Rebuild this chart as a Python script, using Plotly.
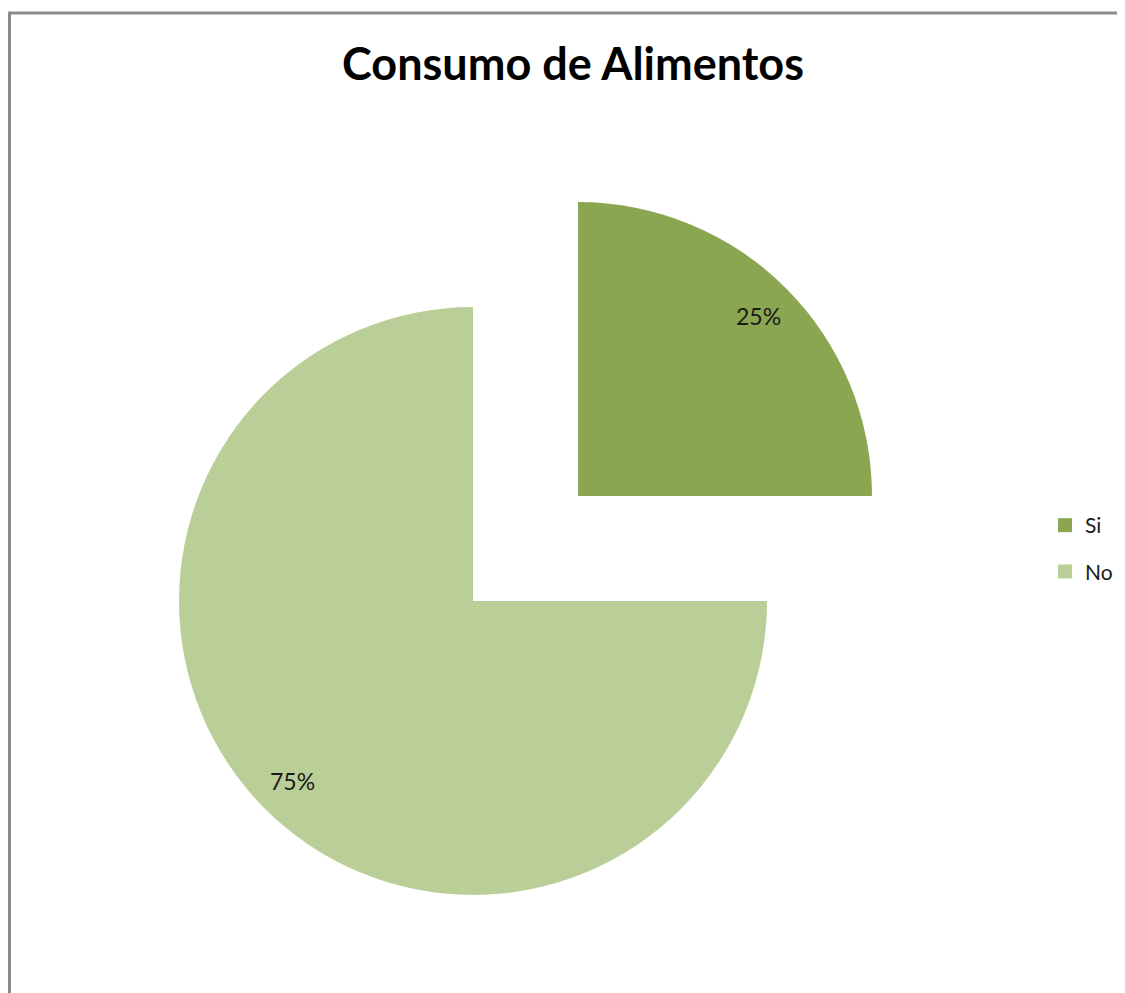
import math
import plotly.graph_objects as go

# datos
categorias = ["Si", "No"]
valores = [25, 75]
colores = ["#8aa650", "#bacf98"]
titulo = "Consumo de Alimentos"

# la pagina deja 8 px de margen alrededor del grafico
OFF = 8
W, H = 1125 - OFF, 993 - OFF
transparente = "rgba(0,0,0,0)"

# geometria del pastel (pixeles de la imagen de referencia)
cx, cy, r = 473 - OFF, 601 - OFF, 294
pull = 0.505
pos_texto = 0.867


def dominio(x0, y0, rad):
    return dict(x=[(x0 - rad) / W, (x0 + rad) / W],
                y=[1 - (y0 + rad) / H, 1 - (y0 - rad) / H])


fig = go.Figure()
anotaciones = []

total = sum(valores)
inicio = 0.0
for i, (cat, val, col) in enumerate(zip(categorias, valores, colores)):
    # angulo medio de la porcion (sentido horario desde las 12)
    medio = 2 * math.pi * (inicio + val / 2) / total
    inicio += val
    dx, dy = math.sin(medio), -math.cos(medio)
    desp = pull * r if i == 0 else 0
    px, py = cx + desp * dx, cy + desp * dy
    cols = [col if j == i else transparente for j in range(len(valores))]
    fig.add_trace(go.Pie(
        labels=categorias,
        values=valores,
        sort=False,
        direction="clockwise",
        rotation=0,
        marker=dict(colors=cols, line=dict(width=0)),
        textinfo="none",
        domain=dominio(px, py, r),
        showlegend=False,
        hoverinfo="skip",
    ))
    tx, ty = px + pos_texto * r * dx, py + pos_texto * r * dy
    anotaciones.append(dict(
        text=f"{val / total:.0%}", x=tx / W, y=1 - ty / H, xref="paper", yref="paper",
        xanchor="center", yanchor="middle", showarrow=False,
        font=dict(family="Lato", size=23, color="#1a1a1a"),
    ))

# leyenda
for cat, col in zip(categorias, colores):
    fig.add_trace(go.Scatter(
        x=[None], y=[None], mode="markers", name=cat, legendgroup=cat,
        marker=dict(symbol="square", size=14, color=col),
    ))

fig.update_layout(
    width=W, height=H,
    margin=dict(l=0, r=0, t=0, b=0),
    paper_bgcolor="white",
    plot_bgcolor="white",
    xaxis=dict(visible=False),
    yaxis=dict(visible=False),
    title=dict(text=titulo, x=(573 - OFF) / W, xanchor="center", y=1 - (64 - OFF) / H, yanchor="middle",
               font=dict(family="Lato", size=45, color="black", weight="bold")),
    legend=dict(x=(1058 - OFF - 13) / W, xanchor="left", y=1 - (526 - OFF - 21) / H, yanchor="top",
                font=dict(family="Lato", size=21, color="#1a1a1a"),
                tracegroupgap=16, itemwidth=30, bgcolor="rgba(0,0,0,0)"),
    annotations=anotaciones,
    shapes=[
        dict(type="line", xref="paper", yref="paper", x0=0, x1=1,
             y0=1 - (13 - OFF) / H, y1=1 - (13 - OFF) / H,
             line=dict(color="#8c8c8c", width=3)),
        dict(type="line", xref="paper", yref="paper", x0=1.5 / W, x1=1.5 / W,
             y0=0, y1=1 - (13 - OFF) / H,
             line=dict(color="#8c8c8c", width=3)),
    ],
)

fig.write_html("out.html")
